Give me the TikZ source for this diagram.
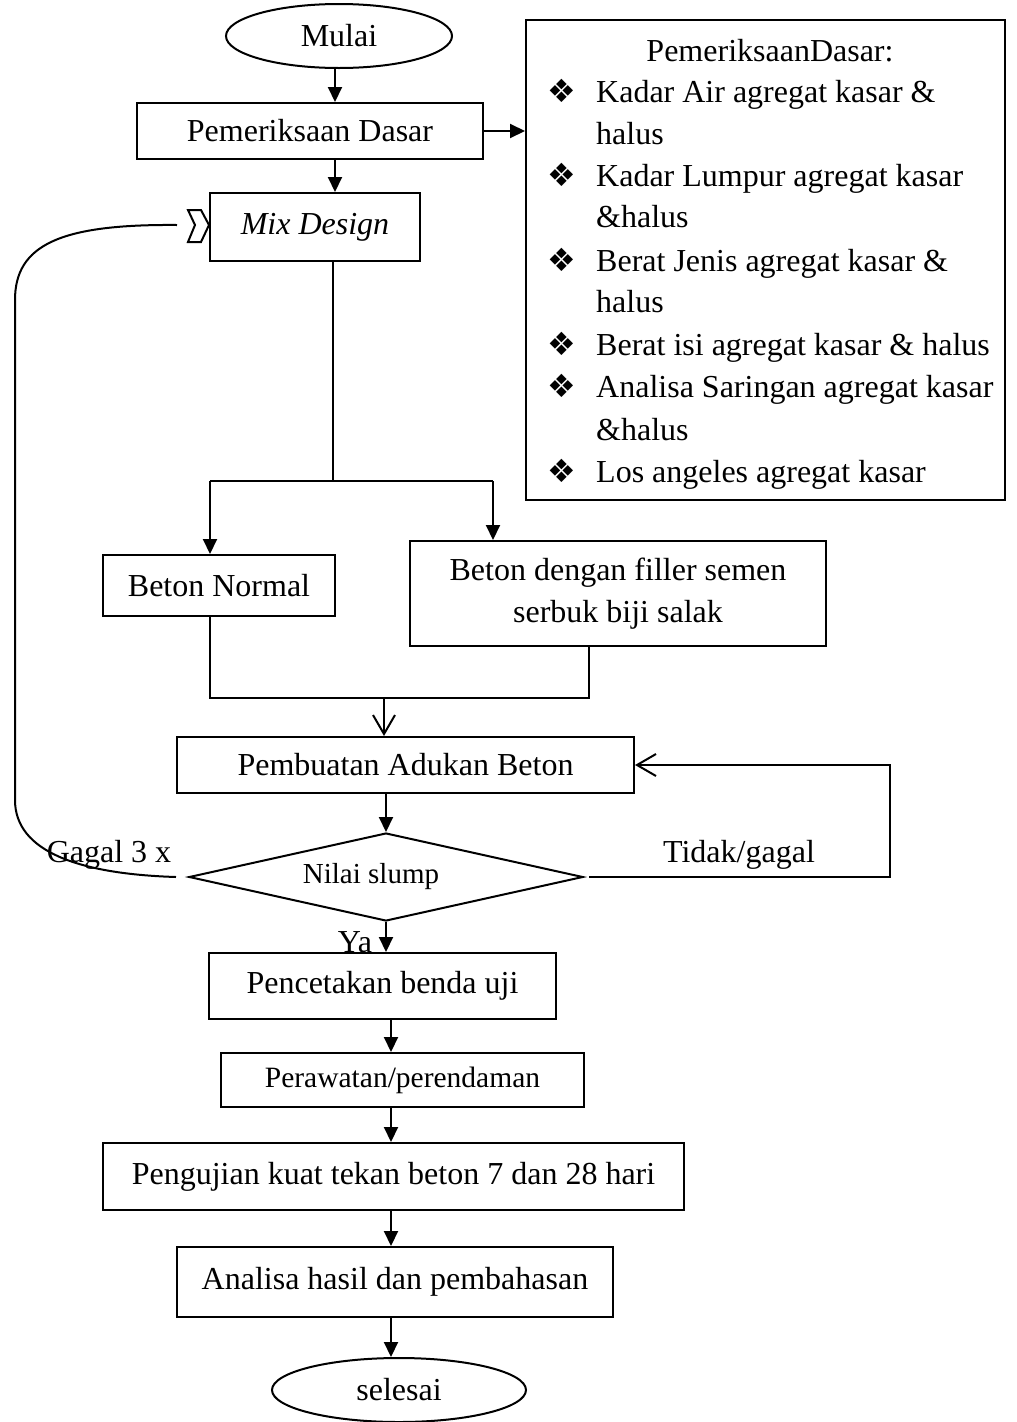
\documentclass[tikz,border=0pt]{standalone}
\usepackage{fontspec}
\setmainfont{Liberation Serif}
\newfontfamily\symfont{DejaVu Sans}
\usetikzlibrary{arrows.meta,shapes.geometric,calc}
\begin{document}
\begin{tikzpicture}[x=1pt,y=-1pt,
  lw/.style={line width=2pt},
  box/.style={draw,lw,rectangle,inner sep=0pt,font=\fontsize{32}{42}\selectfont},
  arr/.style={lw,-{Triangle[length=15pt,width=14pt]}},
  oarr/.style={lw,-{Straight Barb[length=19pt,width=22pt,line width=2pt]}},
  plain/.style={lw},
  txt/.style={font=\fontsize{32}{42}\selectfont,inner sep=0pt},
  bul/.style={font=\symfont\fontsize{32}{32}\selectfont,inner sep=0pt},
]
\useasboundingbox (0,0) rectangle (1017,1422);

% nodes
\node[ellipse,draw,lw,minimum width=226pt,minimum height=64pt,inner sep=0pt,font=\fontsize{32}{42}\selectfont] (mulai) at (339,36) {\raisebox{-3pt}{Mulai}};
\node[box,minimum width=346pt,minimum height=56pt] (pd) at (310,131) {Pemeriksaan Dasar};
\node[box,minimum width=210pt,minimum height=68pt,font=\fontsize{32}{42}\selectfont\itshape] (mix) at (315,227) {Mix Design};
\node[box,minimum width=479pt,minimum height=480pt] (dasar) at (765.5,260) {};
\node[txt,anchor=base] (title) at (770,61) {PemeriksaanDasar:};
\foreach \yy/\tt/\bb [count=\i] in {
  102/Kadar Air agregat kasar \&/1,
  144/halus/0,
  186/Kadar Lumpur agregat kasar/1,
  227/\&halus/0,
  271/Berat Jenis agregat kasar \&/1,
  312/halus/0,
  355/Berat isi agregat kasar \& halus/1,
  397/Analisa Saringan agregat kasar/1,
  440/\&halus/0,
  482/Los angeles agregat kasar/1}{
  \node[txt,anchor=base west] (line\i) at (596,\yy) {\tt};
  \ifnum\bb=1
    \node[bul] (bullet\i) at (562,\yy-11) {❖};
  \fi
}
\node[box,minimum width=232pt,minimum height=61pt] (bn) at (219,585.5) {Beton Normal};
\node[box,minimum width=416pt,minimum height=105pt,align=center] (bf) at (618,593.5) {Beton dengan filler semen\\serbuk biji salak};
\node[box,minimum width=457pt,minimum height=56pt] (pa) at (405.5,765) {Pembuatan Adukan Beton};
\node[diamond,draw,lw,aspect=4.477,minimum width=394pt,minimum height=88pt,inner sep=0pt,font=\fontsize{29}{32}\selectfont] (ns) at (386,877) {\hspace*{-30pt}Nilai slump};
\node[box,minimum width=347pt,minimum height=66pt] (pc) at (382.5,986) {Pencetakan benda uji};
\node[box,minimum width=363pt,minimum height=54pt,font=\fontsize{29.5}{32}\selectfont] (pr) at (402.5,1080) {Perawatan/perendaman};
\node[box,minimum width=581pt,minimum height=67pt] (pg) at (393.5,1176.5) {Pengujian kuat tekan beton 7 dan 28 hari};
\node[box,minimum width=436pt,minimum height=70pt] (an) at (395,1282) {Analisa hasil dan pembahasan};
\node[ellipse,draw,lw,minimum width=254pt,minimum height=64pt,inner sep=0pt,font=\fontsize{32}{42}\selectfont] (sel) at (399,1390) {selesai};

\node[txt,anchor=base] (gagal) at (109,862) {Gagal 3 x};
\node[txt,anchor=base] (tidak) at (739,862) {Tidak/gagal};
\node[txt,anchor=base] (ya) at (355,952) {Ya};

% helper coordinates
\coordinate (spine) at (335,0);
\coordinate (split) at (333,481);
\coordinate (sl) at (210,481);
\coordinate (sr) at (493,481);
\coordinate (jl) at (210,698);
\coordinate (jr) at (589,698);
\coordinate (jm) at (384,698);
\coordinate (tg) at (890,0);
\coordinate (sp2) at (391,0);

% connectors
\draw[arr] (mulai.south -| spine) -- (pd.north -| spine);
\draw[arr] (pd.east) -- (dasar.west |- pd.east);
\draw[arr] (pd.south -| spine) -- (mix.north -| spine);
\draw[plain] (mix.south -| split) -- (split);
\draw[plain] (sl) -- (sr);
\draw[arr] (sl) -- (sl |- bn.north);
\draw[arr] (sr) -- (sr |- bf.north);
\draw[plain] (bn.south -| jl) -- (jl) -- (jr) -- (bf.south -| jr);
\draw[oarr] (jm) -- (pa.north -| jm);
\draw[arr] (pa.south -| ns.north) -- (ns.north);
\draw[oarr] ($(ns.east)+(5,0)$) -| (tg |- pa.east) -- (pa.east);
\draw[plain] ($(ns.west)+(-12,0)$) .. controls (80,874) and (15,852) .. (15,800)
  -- (15,300) .. controls (15,245) and (60,224) .. ($(mix.west)+(-32,-2)$);
\draw[lw,line join=miter] ($(mix.west)+(-21,-17)$) -- ($(mix.west)+(-8,-17)$) -- ($(mix.west)+(0,-2)$)
  -- ($(mix.west)+(-8,15)$) -- ($(mix.west)+(-21,15)$) -- ($(mix.west)+(-14,-2)$) -- cycle;
\draw[arr] (ns.south) -- (ns.south |- pc.north);
\draw[arr] (pc.south -| sp2) -- (pr.north -| sp2);
\draw[arr] (pr.south -| sp2) -- (pg.north -| sp2);
\draw[arr] (pg.south -| sp2) -- (an.north -| sp2);
\draw[arr] (an.south -| sp2) -- (sel.north -| sp2);
\end{tikzpicture}
\end{document}
